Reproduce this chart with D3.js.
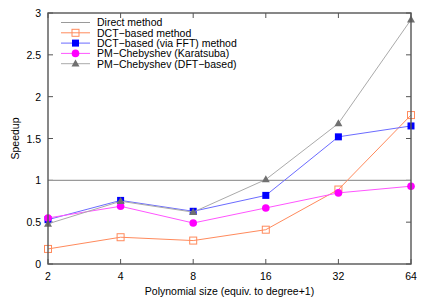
<!DOCTYPE html>
<html><head><meta charset="utf-8">
<script src="https://cdn.jsdelivr.net/npm/d3@7"></script>
<style>body{margin:0;background:#fff}svg{display:block}text{font-family:"Liberation Sans",Arial,sans-serif;font-size:10.5px;fill:#000}</style>
</head><body><svg id="c" width="427" height="299"></svg>
<script>
const sizes = [2, 4, 8, 16, 32, 64];
const yTicks = [0, 0.5, 1, 1.5, 2, 2.5, 3];
const direct = [1, 1, 1, 1, 1, 1];
const dct = [0.18, 0.32, 0.28, 0.41, 0.89, 1.78];
const dctFft = [0.53, 0.76, 0.63, 0.82, 1.52, 1.65];
const pmKara = [0.55, 0.69, 0.49, 0.67, 0.85, 0.93];
const pmDft = [0.48, 0.75, 0.62, 1.01, 1.68, 2.92];
const names = ["Direct method", "DCT\u2212based method", "DCT\u2212based (via FFT) method", "PM\u2212Chebyshev (Karatsuba)", "PM\u2212Chebyshev (DFT\u2212based)"];

const series = [
  {name: names[0], vals: direct, line: "#9a9a9a", marker: null},
  {name: names[1], vals: dct, line: "#ff8a5c", marker: "osq", mc: "#ff8a5c"},
  {name: names[2], vals: dctFft, line: "#6b6bff", marker: "sq", mc: "#0000ff"},
  {name: names[3], vals: pmKara, line: "#ff55ff", marker: "circ", mc: "#ff00ff"},
  {name: names[4], vals: pmDft, line: "#aaaaaa", marker: "tri", mc: "#707070"}
];

const svg = d3.select("#c");
const L = 48, R = 411, T = 13, B = 264;
const x = d3.scaleLog().base(2).domain([2, 64]).range([L, R]);
const y = d3.scaleLinear().domain([0, 3]).range([B, T]);

// ticks (inward, all four sides)
const g = svg.append("g");
yTicks.forEach(v => {
  g.append("line").attr("x1", L).attr("x2", L + 5).attr("y1", y(v)).attr("y2", y(v)).attr("stroke", "#555");
  g.append("line").attr("x1", R).attr("x2", R - 5).attr("y1", y(v)).attr("y2", y(v)).attr("stroke", "#555");
  g.append("text").attr("x", L - 7).attr("y", y(v) + 4).attr("text-anchor", "end").text(d3.format("")(v));
});
sizes.forEach(v => {
  g.append("line").attr("x1", x(v)).attr("x2", x(v)).attr("y1", B).attr("y2", B - 5).attr("stroke", "#555");
  g.append("line").attr("x1", x(v)).attr("x2", x(v)).attr("y1", T).attr("y2", T + 5).attr("stroke", "#555");
  g.append("text").attr("x", x(v)).attr("y", B + 16).attr("text-anchor", "middle").text(v);
});

const line = d3.line().x((d, i) => x(sizes[i])).y(d => y(d));

function marker(sel, type, cx, cy, c) {
  if (type === "osq") sel.append("rect").attr("x", cx - 3.5).attr("y", cy - 3.5).attr("width", 7).attr("height", 7).attr("fill", "none").attr("stroke", c).attr("stroke-width", 1);
  else if (type === "sq") sel.append("rect").attr("x", cx - 3.5).attr("y", cy - 3.5).attr("width", 7).attr("height", 7).attr("fill", c);
  else if (type === "circ") sel.append("circle").attr("cx", cx).attr("cy", cy).attr("r", 3.8).attr("fill", c);
  else if (type === "tri") sel.append("path").attr("d", `M${cx},${cy - 4.2}L${cx + 4},${cy + 2.8}L${cx - 4},${cy + 2.8}Z`).attr("fill", c);
}

const plot = svg.append("g");
series.forEach(s => {
  plot.append("path").attr("d", line(s.vals)).attr("fill", "none").attr("stroke", s.line).attr("stroke-width", s.marker ? 1 : 1.3);
  if (s.marker) s.vals.forEach((v, i) => marker(plot, s.marker, x(sizes[i]), y(v), s.mc));
});

// legend
const lg = svg.append("g");
series.forEach((s, i) => {
  const ly = 22.5 + i * 10.3;
  lg.append("line").attr("x1", 61).attr("x2", 90).attr("y1", ly).attr("y2", ly).attr("stroke", s.line).attr("stroke-width", 1);
  if (s.marker) marker(lg, s.marker, 75.5, ly, s.mc);
  lg.append("text").attr("x", 97).attr("y", ly + 3.8).text(s.name);
});

// border
svg.append("rect").attr("x", L).attr("y", T).attr("width", R - L).attr("height", B - T).attr("fill", "none").attr("stroke", "#555").attr("stroke-width", 1.4);

svg.append("text").attr("x", (L + R) / 2).attr("y", 295).attr("text-anchor", "middle").text("Polynomial size (equiv. to degree+1)");
svg.append("text").attr("transform", `translate(19,${(T + B) / 2}) rotate(-90)`).attr("text-anchor", "middle").text("Speedup");
</script></body></html>
